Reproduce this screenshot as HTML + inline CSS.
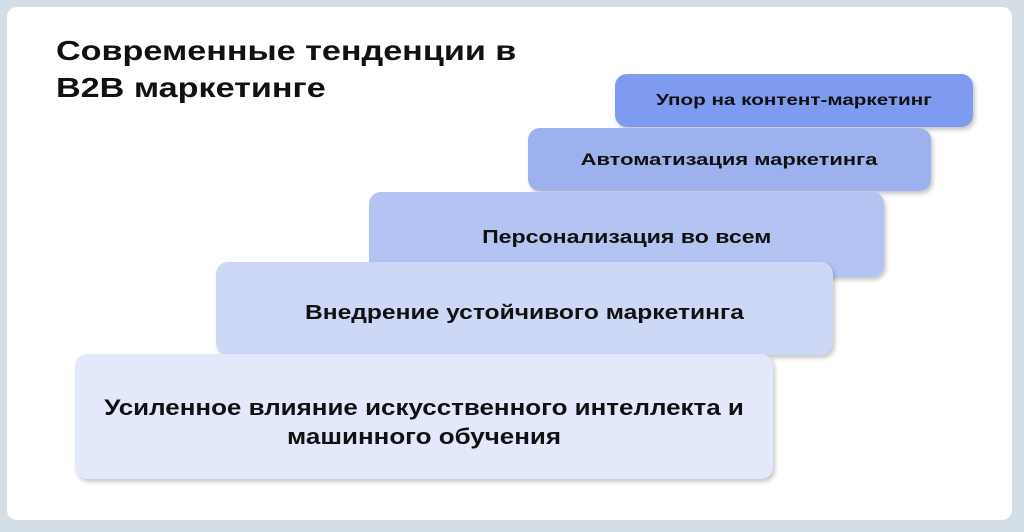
<!DOCTYPE html>
<html><head><meta charset="utf-8"><style>
body{margin:0;width:1024px;height:532px;background:#d3dee7;position:relative;overflow:hidden;font-family:"Liberation Sans","DejaVu Sans",sans-serif;}
.inner{position:absolute;left:7px;top:7px;width:1005px;height:513px;background:#fff;border-radius:10px;}
.t{position:absolute;left:56px;top:32px;font-size:28px;line-height:37px;color:#111;font-weight:600;transform:scaleX(1.22);transform-origin:left top;white-space:nowrap}
.b{position:absolute;border-radius:12px;box-shadow:2px 3px 4px rgba(0,0,0,0.22);display:flex;align-items:center;justify-content:center;text-align:center;color:#111;font-weight:600;box-sizing:border-box;}
.b span{display:inline-block;white-space:nowrap}
</style></head><body>
<div class="inner"></div>
<div class="t">Современные тенденции в<br>B2B маркетинге</div>
<div class="b" style="left:615px;top:74px;width:358px;height:53px;background:#7f9bf0;font-size:16px;"><span style="transform:scaleX(1.29)">Упор на контент-маркетинг</span></div>
<div class="b" style="left:528px;top:128px;width:403px;height:63px;background:#9db1ee;font-size:17px;"><span style="transform:scaleX(1.29)">Автоматизация маркетинга</span></div>
<div class="b" style="left:369px;top:192px;width:515px;height:85px;background:#b3c3f2;font-size:18.5px;align-items:flex-start;padding-top:34px;"><span style="transform:scaleX(1.25)">Персонализация во всем</span></div>
<div class="b" style="left:216px;top:262px;width:617px;height:93px;background:#cdd8f6;font-size:20px;padding-top:9px;"><span style="transform:scaleX(1.23)">Внедрение устойчивого маркетинга</span></div>
<div class="b" style="left:75px;top:354px;width:698px;height:125px;background:#e3e8fa;font-size:22px;line-height:29px;padding-top:11px;"><span style="transform:scaleX(1.18)">Усиленное влияние искусственного интеллекта и<br>машинного обучения</span></div>
</body></html>
